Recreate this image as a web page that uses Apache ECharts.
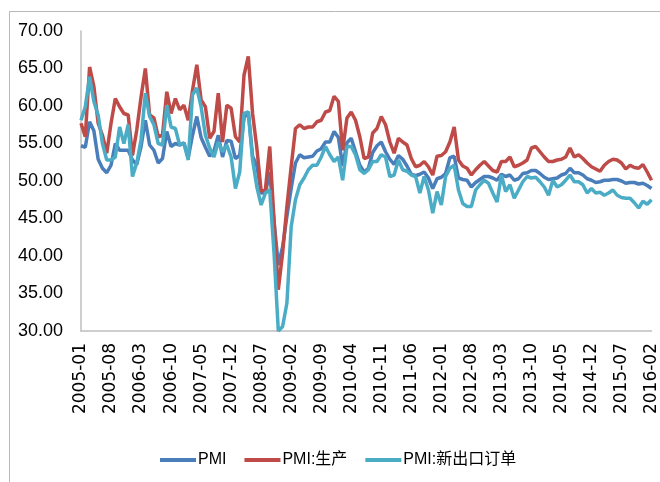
<!DOCTYPE html>
<html>
<head>
<meta charset="utf-8">
<script src="https://cdn.jsdelivr.net/npm/echarts@6/dist/echarts.min.js"></script>
<style>
  html, body { margin: 0; padding: 0; background: #fff; }
  #main { width: 660px; height: 482px; }
</style>
</head>
<body>
<div id="main"></div>
<script>
// months 2005-01 .. 2016-02
var months = [];
for (var y = 2005; y <= 2016; y++) {
  for (var m = 1; m <= 12; m++) {
    if (y == 2016 && m > 2) break;
    months.push(y + '-' + (m < 10 ? '0' + m : m));
  }
}

var pmi = [
  54.7, 54.5, 57.9, 56.7, 52.9, 51.7, 51.1, 52.1, 55.0, 54.1, 54.1, 54.1,
  52.8, 52.2, 54.6, 58.1, 54.8, 54.1, 52.4, 53.0, 56.6, 54.6, 55.0, 54.8,
  55.1, 53.1, 56.1, 58.6, 55.8, 54.5, 53.3, 54.0, 56.1, 53.2, 55.4, 55.3,
  53.0, 53.4, 58.4, 59.2, 53.3, 52.0, 48.4, 48.4, 51.2, 44.6, 38.8, 41.2,
  45.3, 49.0, 52.4, 53.5, 53.1, 53.2, 53.3, 54.0, 54.3, 55.2, 55.2, 56.6,
  55.8, 52.0, 55.1, 55.7, 53.9, 52.1, 51.2, 51.7, 53.8, 54.7, 55.2, 53.9,
  52.9, 52.2, 53.4, 52.9, 52.0, 50.9, 50.7, 50.9, 51.2, 50.4, 49.0, 50.3,
  50.5, 51.0, 53.1, 53.3, 50.4, 50.2, 50.1, 49.2, 49.8, 50.2, 50.6, 50.6,
  50.4, 50.1, 50.9, 50.6, 50.8, 50.1, 50.3, 51.0, 51.1, 51.4, 51.4, 51.0,
  50.5, 50.2, 50.3, 50.4, 50.8, 51.0, 51.7, 51.1, 51.1, 50.8, 50.3, 50.1,
  49.8, 49.9, 50.1, 50.1, 50.2, 50.2, 50.0, 49.7, 49.8, 49.8, 49.6, 49.7,
  49.4, 49.0
];

var production = [
  57.7, 55.9, 65.2, 62.6, 57.7, 56.1, 53.7, 57.7, 61.0, 59.9, 59.0, 58.8,
  53.4, 56.8, 61.2, 65.0, 58.8, 58.4, 55.9, 56.1, 61.9, 59.0, 61.0, 59.5,
  60.1, 58.1, 62.1, 65.5, 60.8, 59.9, 55.7, 56.6, 61.7, 55.2, 60.1, 59.7,
  55.9, 55.2, 64.1, 66.6, 59.0, 54.4, 48.6, 48.9, 54.6, 44.8, 35.5, 40.4,
  46.6, 51.9, 57.0, 57.5, 57.0, 57.2, 57.2, 57.9, 58.1, 59.2, 59.4, 61.3,
  60.6, 54.1, 58.4, 59.2, 58.1, 55.9, 53.0, 53.2, 56.4, 57.0, 58.6, 57.5,
  55.2, 53.7, 55.7, 55.2, 54.8, 53.0, 51.9, 52.1, 52.6, 51.9, 50.8, 53.3,
  53.4, 53.9, 55.2, 57.2, 52.8, 52.0, 51.7, 50.8, 51.5, 52.1, 52.6, 52.0,
  51.4, 51.2, 52.6, 52.6, 53.2, 51.9, 52.1, 52.4, 52.8, 54.4, 54.6, 53.9,
  53.2, 52.6, 52.6, 52.8, 52.9, 53.2, 54.4, 53.2, 53.5, 53.0, 52.4, 51.9,
  51.6, 51.3, 52.1, 52.6, 52.9, 52.8, 52.4, 51.6, 52.1, 51.8, 51.7, 52.2,
  51.2, 50.1
];

var exportOrders = [
  58.1, 59.9, 63.9, 60.6, 58.8, 55.0, 52.8, 52.8, 53.2, 57.2, 55.0, 57.5,
  50.6, 52.4, 55.5, 61.7, 58.6, 57.5, 55.0, 54.8, 60.1, 57.2, 57.0, 54.8,
  55.0, 52.8, 61.5, 62.4, 59.9, 56.1, 54.4, 53.2, 55.2, 53.9, 54.8, 53.2,
  49.0, 51.2, 59.0, 59.2, 52.8, 49.2, 46.8, 48.4, 48.8, 40.4, 30.0, 30.6,
  33.7, 43.9, 47.5, 49.5, 50.4, 51.5, 52.1, 52.1, 53.2, 54.6, 53.5, 52.6,
  53.2, 50.1, 54.6, 54.6, 53.5, 51.5, 51.0, 51.5, 52.6, 52.6, 53.5, 53.2,
  50.6, 50.8, 52.8, 51.5, 51.3, 50.8, 50.6, 48.4, 50.6, 48.8, 45.7, 48.6,
  46.8, 50.6, 51.7, 52.1, 48.8, 47.0, 46.6, 46.6, 48.8, 49.5, 50.1, 49.7,
  48.4, 47.2, 50.8, 48.6, 49.5, 47.7, 48.8, 49.9, 50.6, 50.4, 50.5, 49.9,
  49.2, 48.1, 50.1, 49.2, 49.5, 50.1, 50.8, 49.9, 49.9, 49.5, 48.4, 49.0,
  48.4, 48.5, 48.1, 48.4, 48.8, 48.1, 47.8, 47.7, 47.7, 47.1, 46.4, 47.3,
  46.9, 47.5
];

var seriesNames = ['PMI', 'PMI:生产', 'PMI:新出口订单'];
var seriesColors = ['#4a7ebb', '#be4b48', '#4bacc6'];

var labelFont = "'Liberation Sans Narrow', 'Liberation Sans', 'Noto Sans CJK SC', sans-serif";

var chart = echarts.init(document.getElementById('main'));

var option = {
  backgroundColor: '#fff',
  animation: false,
  color: seriesColors,
  graphic: [{
    type: 'rect',
    left: 7,
    top: 9,
    shape: { width: 720, height: 520 },
    style: { fill: 'none', stroke: '#b8b8b8', lineWidth: 1 },
    silent: true
  }],
  grid: {
    left: 81,
    right: 7,
    top: 31,
    bottom: 151,
    containLabel: false
  },
  legend: {
    left: 155,
    top: 447,
    icon: 'rect',
    itemWidth: 36,
    itemHeight: 4,
    itemGap: 18,
    textStyle: {
      fontFamily: labelFont,
      fontSize: 16,
      color: '#000',
      padding: [0, 0, 0, -3]
    },
    data: seriesNames
  },
  xAxis: {
    type: 'category',
    boundaryGap: false,
    data: months,
    axisLine: { lineStyle: { color: '#bfbfbf', width: 1.5 } },
    axisTick: { show: false },
    axisLabel: {
      interval: 6,
      rotate: 90,
      margin: 12,
      fontFamily: "'DejaVu Sans', sans-serif",
      fontSize: 17,
      color: '#000'
    },
    splitLine: { show: false }
  },
  yAxis: {
    type: 'value',
    min: 30,
    max: 70,
    interval: 5,
    axisLine: { show: true, lineStyle: { color: '#bfbfbf', width: 1.5 } },
    axisTick: { show: false },
    axisLabel: {
      margin: 18,
      fontFamily: labelFont,
      fontSize: 18,
      color: '#000',
      formatter: function (v) { return v.toFixed(2); }
    },
    splitLine: { show: false }
  },
  series: [
    { name: seriesNames[0], type: 'line', data: pmi },
    { name: seriesNames[1], type: 'line', data: production },
    { name: seriesNames[2], type: 'line', data: exportOrders }
  ].map(function (s) {
    s.symbol = 'none';
    s.lineStyle = { width: 3.5 };
    s.clip = true;
    return s;
  })
};

chart.setOption(option);
</script>
</body>
</html>
